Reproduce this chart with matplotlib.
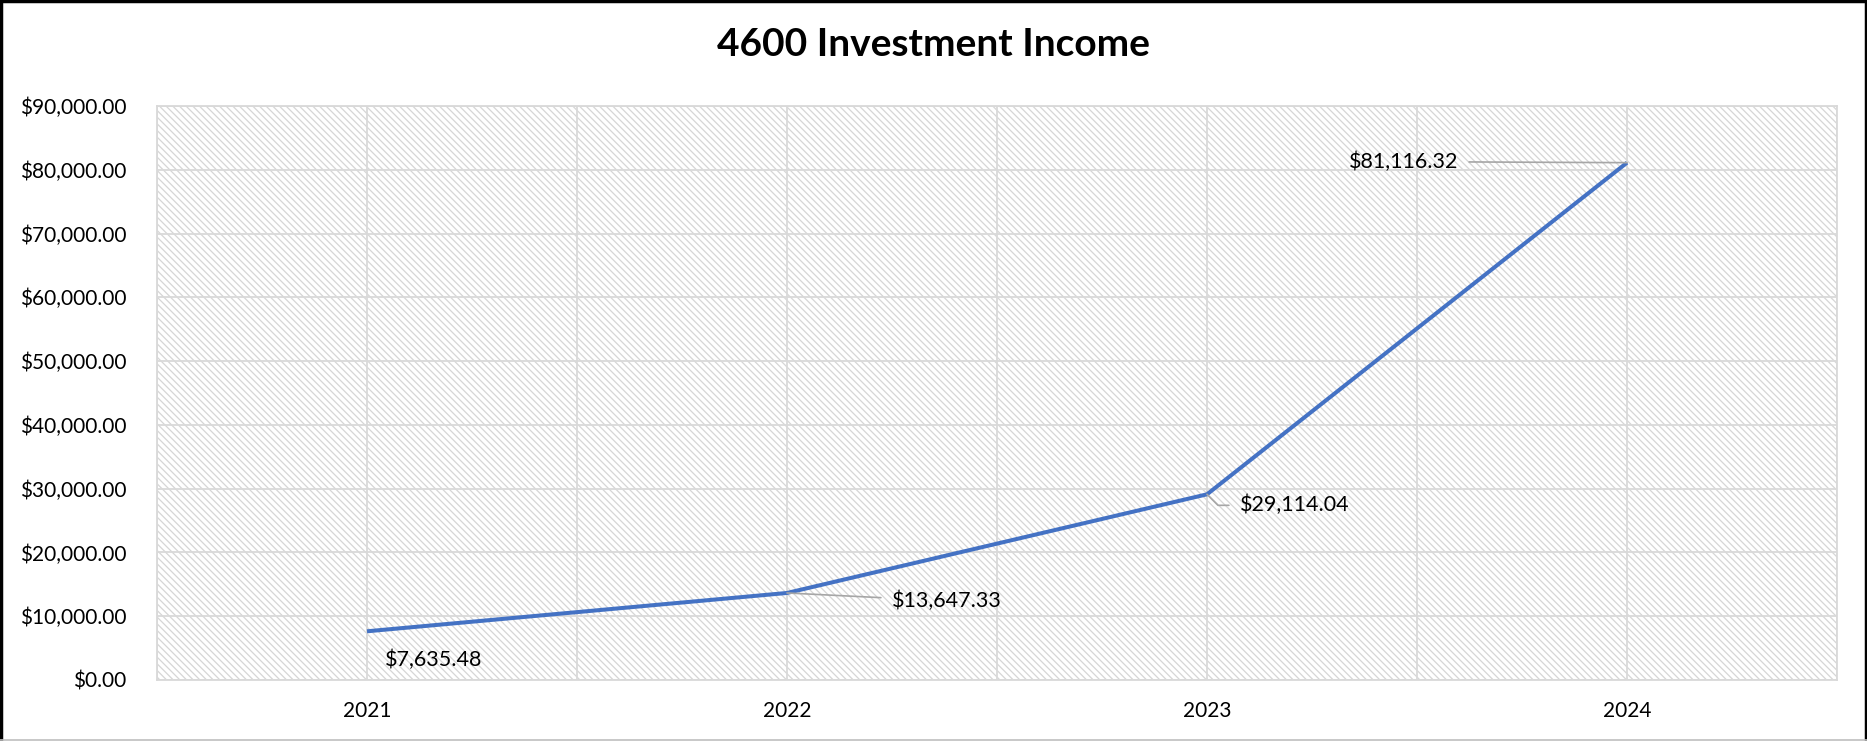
import matplotlib
matplotlib.use("Agg")
import matplotlib.pyplot as plt
from matplotlib.patches import Rectangle
from matplotlib.lines import Line2D
from matplotlib.ticker import FuncFormatter, MultipleLocator

years = ["2021", "2022", "2023", "2024"]
income = [7635.48, 13647.33, 29114.04, 81116.32]
label_texts = ["$7,635.48", "$13,647.33", "$29,114.04", "$81,116.32"]
title = "4600 Investment Income"

plt.rcParams['font.family'] = ['Lato', 'DejaVu Sans']
plt.rcParams['hatch.linewidth'] = 0.9

fig = plt.figure(figsize=(18.67, 7.41), dpi=100)
ax = fig.add_axes([157/1867, 61/741, 1680/1867, 574/741])

x = list(range(len(years)))

# hatched background
bg = Rectangle((0, 0), 1, 1, transform=ax.transAxes, facecolor='white',
               edgecolor='#d6d6d6', linewidth=0, hatch='\\\\\\\\\\', zorder=0.1)
ax.add_patch(bg)
ax.patch.set_visible(False)

ax.plot(x, income, color='#4472C4', linewidth=2.9, zorder=3, solid_capstyle='butt')

ax.set_xlim(-0.5, len(years) - 0.5)
ax.set_ylim(0, 90000)
ax.yaxis.set_major_locator(MultipleLocator(10000))
ax.yaxis.set_major_formatter(FuncFormatter(lambda v, p: f"${v:,.2f}"))
ax.set_xticks(x)
ax.set_xticklabels(years)
ax.set_xticks([i + 0.5 for i in range(-1, len(years))], minor=True)

ax.grid(True, which='major', axis='both', color='#d9d9d9', linewidth=1.3, zorder=0.5)
ax.grid(True, which='minor', axis='x', color='#d9d9d9', linewidth=1.3, zorder=0.5)
ax.set_axisbelow(True)
ax.tick_params(axis='both', which='both', length=0)
ax.tick_params(axis='y', labelsize=15, pad=22, labelcolor='#000000')
ax.tick_params(axis='x', labelsize=15, pad=15, labelcolor='#000000')
for s in ax.spines.values():
    s.set_color('#d9d9d9')
    s.set_linewidth(1.3)

# data labels (offsets in pixels)
offsets = [(18, -29), (105, -8), (33, -11), (-169, 1)]
has = ['left', 'left', 'left', 'right']
conns = [None, 'arc3', 'angle,angleA=0,angleB=-45,rad=0', 'arc3']
for i, (xi, yi) in enumerate(zip(x, income)):
    kw = {}
    if conns[i] is not None:
        kw['arrowprops'] = dict(arrowstyle='-', color='#a6a6a6', lw=1.2,
                                shrinkA=6, shrinkB=0, connectionstyle=conns[i])
    ax.annotate(label_texts[i], xy=(xi, yi), xytext=offsets[i],
                textcoords='offset pixels', ha=has[i], va='center',
                fontsize=15.5, color='black', zorder=4, **kw)

fig.text(0.5, 1 - 44/741, title, ha='center', va='center',
         fontsize=28, fontweight='bold', color='black')

# outer frame
fig.add_artist(Line2D([0.0008, 0.0008], [0, 1], transform=fig.transFigure, color='black', lw=2.5))
fig.add_artist(Line2D([0.9992, 0.9992], [0, 1], transform=fig.transFigure, color='black', lw=2.5))
fig.add_artist(Line2D([0, 1], [0.998, 0.998], transform=fig.transFigure, color='black', lw=2.5))
fig.add_artist(Line2D([0, 1], [0.0012, 0.0012], transform=fig.transFigure, color='#bfbfbf', lw=1.2))

fig.savefig("out.png", dpi=100)
